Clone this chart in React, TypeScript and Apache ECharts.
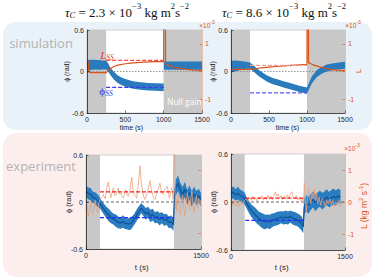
import React, { useEffect, useRef } from 'react';
import * as echarts from 'echarts';

// ---------------- data ----------------
// simulation, tau_C = 2.3e-3
const S1_T = [0, 50, 100, 150, 200, 250, 275, 300, 350, 400, 450, 500, 600, 700, 800, 900, 1000, 1003, 1050, 1100, 1200, 1300, 1400, 1500];
const S1_PHI = [0.09, 0.095, 0.1, 0.095, 0.095, 0.095, 0.06, 0.01, -0.06, -0.11, -0.14, -0.165, -0.195, -0.21, -0.22, -0.225, -0.23, 0.085, 0.085, 0.085, 0.085, 0.085, 0.085, 0.085];
const S1_HW = [0.075, 0.075, 0.07, 0.07, 0.065, 0.065, 0.06, 0.055, 0.055, 0.055, 0.055, 0.055, 0.055, 0.055, 0.055, 0.055, 0.055, 0.06, 0.06, 0.06, 0.06, 0.06, 0.06, 0.06];
const S1_LT = [0, 15, 25, 50, 250, 275, 300, 350, 400, 500, 600, 700, 800, 900, 1000, 1001, 1022, 1025, 1050, 1100, 1200, 1300, 1400, 1500];
const S1_L = [0.38, 0.38, -0.02, -0.04, -0.04, 0.03, 0.1, 0.18, 0.23, 0.28, 0.31, 0.33, 0.345, 0.355, 0.36, 3, 3, 0.28, 0.24, 0.18, 0.12, 0.08, 0.05, 0.04];
const S1_SPAN = [250, 1000];
const S1_L_SS = 0.4;
const S1_PHI_SS = -0.23;
const S1_NULL = [[0, 250], [1000, 1500]];

// simulation, tau_C = 8.6e-3
const S2_T = [0, 50, 100, 150, 200, 250, 300, 350, 400, 470, 550, 600, 690, 800, 900, 1000, 1030, 1065, 1100, 1130, 1200, 1260, 1350, 1420, 1500];
const S2_PHI = [0.07, 0.08, 0.085, 0.09, 0.09, 0.085, 0.04, -0.01, -0.05, -0.1, -0.14, -0.155, -0.185, -0.22, -0.25, -0.275, -0.2, -0.12, -0.07, -0.03, 0.02, 0.05, 0.07, 0.08, 0.09];
const S2_HW = [0.085, 0.08, 0.07, 0.06, 0.05, 0.045, 0.045, 0.045, 0.045, 0.045, 0.045, 0.045, 0.045, 0.045, 0.045, 0.045, 0.05, 0.05, 0.05, 0.05, 0.05, 0.05, 0.05, 0.05, 0.05];
const S2_LT = [0, 250, 300, 400, 500, 600, 700, 800, 900, 1000, 1001, 1018, 1020, 1050, 1100, 1200, 1300, 1400, 1500];
const S2_L = [0.08, 0.08, 0.1, 0.13, 0.16, 0.18, 0.2, 0.22, 0.24, 0.26, 3, 3, 0.33, 0.28, 0.22, 0.14, 0.08, 0.05, 0.03];
const S2_SPAN = [250, 1000];
const S2_L_SS = 0.22;
const S2_PHI_SS = -0.31;
const S2_NULL = [[0, 250], [1000, 1500]];

// experiment, left
const E1_T = [0, 30, 60, 90, 120, 150, 180, 210, 240, 270, 300, 330, 360, 390, 420, 450, 480, 510, 540, 570, 600, 630, 660, 690, 720, 750, 780, 810, 840, 870, 900, 930, 960, 990, 1020, 1050, 1080, 1110, 1140,
  1155, 1170, 1200, 1230, 1260, 1290, 1320, 1350, 1380, 1410, 1440, 1470, 1500];
const E1_PHI = [0.13, 0.11, 0.1, 0.06, 0.05, 0.02, -0.01, -0.06, -0.1, -0.14, -0.17, -0.2, -0.22, -0.24, -0.26, -0.27, -0.25, -0.27, -0.28, -0.28, -0.26, -0.22, -0.17, -0.12, -0.08, -0.11, -0.15, -0.13, -0.18, -0.16, -0.2, -0.19, -0.22, -0.2, -0.23, -0.22, -0.26, -0.25, -0.29,
  0.08, 0.18, 0.24, 0.15, 0.1, 0.16, 0.06, 0.12, 0.04, 0.1, 0.05, 0.08, 0.03];
const E1_HW = [0.07, 0.075, 0.08, 0.07, 0.075, 0.08, 0.07, 0.065, 0.07, 0.075, 0.08, 0.075, 0.07, 0.08, 0.075, 0.07, 0.08, 0.075, 0.07, 0.08, 0.075, 0.07, 0.075, 0.07, 0.065, 0.07, 0.075, 0.07, 0.08, 0.075, 0.07, 0.075, 0.08, 0.07, 0.075, 0.07, 0.075, 0.08, 0.08,
  0.09, 0.1, 0.1, 0.095, 0.09, 0.1, 0.095, 0.09, 0.1, 0.095, 0.09, 0.09, 0.085];
const E1_LT = [0, 15, 30, 45, 60, 75, 90, 105, 120, 135, 150, 165, 183,
  205, 226, 250, 270, 291, 310, 322, 340, 357, 375, 391, 410, 422, 437, 452, 470, 487, 505, 522, 537, 552, 575, 596, 612, 626, 645, 661, 680, 704, 722, 739, 755, 769, 787, 804, 820, 835, 852, 869, 885, 900, 915, 930, 948, 965, 983, 1000, 1015, 1030, 1045, 1061, 1075, 1087, 1100, 1117, 1130, 1139,
  1146, 1156, 1165, 1175, 1185, 1200, 1215, 1230, 1245, 1260, 1275, 1290, 1305, 1320, 1335, 1350, 1365, 1380, 1395, 1410, 1425, 1440, 1455, 1470, 1485, 1500];
const E1_L = [-0.3, -0.1, -0.45, -0.2, -0.05, -0.3, -0.4, -0.1, 0.05, -0.25, -0.35, -0.05, 0.08,
  0.15, 0.24, 0.1, 0.45, 0.64, 0.3, 0.13, 0.3, 0.45, 0.2, 0.24, 0.35, 0.45, 0.25, 0.29, 0.18, 0.13, 0.28, 0.39, 0.22, 0.18, 0.4, 0.79, 0.4, 0.24, 0.2, 0.13, 0.5, 1.16, 0.6, 0.34, 0.15, 0.08, 0.2, 0.34, 0.5, 0.68, 0.4, 0.24, 0.12, 0.08, 0.2, 0.34, 0.45, 0.6, 0.35, 0.24, 0.3, 0.39, 0.45, 0.5, 0.3, 0.13, 0.25, 0.45, 0.2, 0.08,
  2.5, 2.5, -0.2, 0.1, -0.3, 0.25, 0.0, -0.4, -0.1, 0.2, -0.2, -0.45, -0.1, 0.3, 0.1, -0.25, 0.05, 0.35, -0.1, -0.35, 0.0, 0.2, -0.2, 0.1, -0.1, 0.05];
const E1_SPAN = [183, 1140];
const E1_L_SS = 0.32;
const E1_PHI_SS = -0.2;
const E1_NULL = [[0, 183], [1148, 1500]];

// experiment, right
const E2_T = [0, 30, 60, 90, 120, 150, 180, 210, 240, 270, 300, 330, 360, 390, 420, 450, 480, 510, 540, 570, 600, 630, 660, 690, 720, 750, 780, 810, 840, 870, 900, 930,
  950, 965, 990, 1020, 1050, 1080, 1110, 1140, 1170, 1200, 1230, 1260, 1290, 1320, 1350, 1380, 1410, 1440];
const E2_PHI = [0.11, 0.12, 0.09, 0.11, 0.08, 0.07, 0.04, -0.02, -0.07, -0.11, -0.14, -0.17, -0.2, -0.22, -0.24, -0.25, -0.24, -0.25, -0.23, -0.22, -0.21, -0.2, -0.19, -0.2, -0.19, -0.2, -0.18, -0.2, -0.21, -0.22, -0.24, -0.27,
  -0.31, -0.05, -0.02, -0.04, 0.0, 0.03, -0.01, 0.02, 0.04, 0.01, 0.03, 0.06, 0.03, 0.05, 0.07, 0.05, 0.08, 0.06];
const E2_HW = [0.07, 0.075, 0.07, 0.08, 0.075, 0.07, 0.075, 0.07, 0.075, 0.08, 0.085, 0.09, 0.085, 0.09, 0.095, 0.09, 0.085, 0.09, 0.085, 0.08, 0.085, 0.08, 0.075, 0.08, 0.085, 0.08, 0.075, 0.08, 0.085, 0.08, 0.085, 0.09,
  0.08, 0.1, 0.1, 0.105, 0.1, 0.1, 0.105, 0.1, 0.1, 0.105, 0.1, 0.1, 0.095, 0.1, 0.1, 0.095, 0.09, 0.09];
const E2_LT = [0, 15, 30, 45, 60, 75, 90, 105, 120, 135, 150, 165, 180,
  200, 220, 245, 265, 285, 305, 325, 345, 365, 385, 405, 425, 445, 465, 485, 505, 525, 545, 565, 583, 600, 620, 640, 660, 680, 700, 720, 740, 760, 780, 800, 820, 840, 860, 880, 900, 920, 940, 955,
  965, 980, 990, 1005, 1020, 1035, 1050, 1065, 1080, 1095, 1110, 1125, 1140, 1160, 1180, 1200, 1220, 1240, 1260, 1280, 1300, 1320, 1340, 1360, 1380, 1400, 1420, 1440, 1460];
const E2_L = [-0.05, 0.05, -0.1, -0.02, -0.12, 0.0, -0.08, -0.15, -0.02, 0.04, -0.1, -0.05, 0.05,
  0.1, 0.02, 0.15, 0.05, 0.18, 0.08, 0.12, 0.02, 0.14, 0.1, 0.2, 0.06, 0.15, 0.08, 0.22, 0.1, 0.18, 0.06, 0.2, 0.32, 0.18, 0.25, 0.12, 0.2, 0.08, 0.18, 0.1, 0.22, 0.12, 0.25, 0.32, 0.15, 0.1, 0.2, 0.06, 0.15, 0.04, 0.1, -0.05,
  0.6, 0.1, -0.3, 0.1, 0.45, 0.2, -0.05, 0.3, 0.1, 0.4, 0.05, 0.25, -0.05, 0.15, -0.1, 0.1, 0.0, -0.15, 0.05, -0.05, 0.1, -0.1, 0.05, -0.15, 0.0, -0.1, 0.05, -0.15, -0.05];
const E2_SPAN = [188, 955];
const E2_L_SS = 0.12;
const E2_PHI_SS = -0.23;
const E2_NULL = [[0, 180], [960, 1500]];

const X_TICKS_SIM = [0, 500, 1000, 1500];
const X_TICKS_EXP = [0, 1500];
const PHI_RANGE = [-0.6, 0.6];
const L_RANGE = [-1.5, 1.5];

// ---------------- styling ----------------
const SANS = 'Liberation Sans, Arial, Helvetica, sans-serif';
const SERIF = 'Liberation Serif, DejaVu Serif, serif';
const ORANGE = '#d95319';
const GRAY_AREA = '#c8c8c8';

const GRIDS = [
  { left: 87, top: 30, width: 115, height: 83 },
  { left: 231, top: 30, width: 114, height: 83 },
  { left: 86, top: 155, width: 115, height: 94 },
  { left: 231, top: 154, width: 114, height: 96 },
];

const fmt = (v: number) => String(v);

function bandSeries(gi: number, T: number[], C: number[], H: number[], color: string, opacity: number) {
  return {
    type: 'custom',
    xAxisIndex: gi,
    yAxisIndex: gi * 2,
    data: [[T[0], C[0]]],
    silent: true,
    z: 3,
    renderItem: (params: any, api: any) => {
      const pts: number[][] = [];
      for (let i = 0; i < T.length; i++) pts.push(api.coord([T[i], C[i] + H[i]]));
      for (let i = T.length - 1; i >= 0; i--) pts.push(api.coord([T[i], C[i] - H[i]]));
      return { type: 'polygon', shape: { points: pts }, style: { fill: color, opacity } };
    },
  };
}

function lineSeries(gi: number, right: boolean, T: number[], V: number[], color: string, width: number, type: any = 'solid', z = 4, opacity = 1) {
  return {
    type: 'line',
    xAxisIndex: gi,
    yAxisIndex: gi * 2 + (right ? 1 : 0),
    data: T.map((t, i) => [t, V[i]]),
    symbol: 'none',
    silent: true,
    clip: true,
    z,
    lineStyle: { color, width, type, opacity },
  };
}

function nullSeries(gi: number, spans: number[][]) {
  return {
    type: 'line',
    xAxisIndex: gi,
    yAxisIndex: gi * 2,
    data: [[spans[0][0], 0]],
    symbol: 'none',
    silent: true,
    z: 1,
    lineStyle: { width: 0 },
    markArea: {
      silent: true,
      itemStyle: { color: GRAY_AREA, opacity: 1 },
      data: spans.map((s) => [{ xAxis: s[0] }, { xAxis: s[1] }]),
    },
  };
}

function zeroSeries(gi: number, color: string, type: any) {
  return lineSeries(gi, false, [0, 1500], [0, 0], color, 0.9, type, 2);
}

function ssSeries(gi: number, span: number[], lss: number, pss: number, lc: string, pc: string) {
  return [
    lineSeries(gi, true, span, [lss, lss], lc, 1.2, [4, 2], 6),
    lineSeries(gi, false, span, [pss, pss], pc, 1.2, [4, 2], 6),
  ];
}

function xAxis(gi: number, sim: boolean) {
  return {
    type: 'value',
    gridIndex: gi,
    min: 0,
    max: 1500,
    interval: 500,
    z: 10,
    axisLine: { show: true, onZero: false, lineStyle: { color: '#262626', width: 0.8 } },
    axisTick: {
      show: true, inside: true, length: 2.5,
      lineStyle: { color: '#262626', width: 0.6 },
      customValues: sim ? X_TICKS_SIM : X_TICKS_EXP,
    },
    axisLabel: {
      show: true, fontSize: 7, color: '#262626', margin: 3, fontFamily: SANS,
      customValues: sim ? X_TICKS_SIM : X_TICKS_EXP,
      showMinLabel: true, showMaxLabel: true,
      formatter: fmt,
    },
    splitLine: { show: false },
  };
}

function yLeft(gi: number) {
  return {
    type: 'value',
    gridIndex: gi,
    position: 'left',
    min: PHI_RANGE[0],
    max: PHI_RANGE[1],
    interval: 0.6,
    z: 10,
    axisLine: { show: true, onZero: false, lineStyle: { color: '#262626', width: 0.8 } },
    axisTick: { show: true, inside: true, length: 2.5, lineStyle: { color: '#262626', width: 0.6 } },
    axisLabel: { fontSize: 7, color: '#262626', margin: 3, fontFamily: SANS, showMinLabel: true, showMaxLabel: true, formatter: fmt },
    splitLine: { show: false },
  };
}

function yRight(gi: number, labels: number[] | null) {
  return {
    type: 'value',
    gridIndex: gi,
    position: 'right',
    min: L_RANGE[0],
    max: L_RANGE[1],
    interval: 0.5,
    z: 10,
    axisLine: { show: true, onZero: false, lineStyle: { color: '#e9b99c', width: 0.8 } },
    axisTick: { show: true, inside: true, length: 2.5, lineStyle: { color: ORANGE, width: 0.6 }, customValues: [-1, 0, 1] },
    axisLabel: {
      show: !!labels, fontSize: 7, color: ORANGE, margin: 3, fontFamily: SANS,
      customValues: labels || [],
      formatter: fmt,
    },
    splitLine: { show: false },
  };
}

function text(x: number, y: number, t: string, o: any = {}) {
  const { rotation, rich, ...style } = o;
  return {
    type: 'text',
    x, y, z: 100,
    rotation: rotation || 0,
    silent: true,
    style: {
      text: t,
      fontFamily: SANS,
      fontSize: 7,
      fill: '#262626',
      align: 'center',
      verticalAlign: 'middle',
      textAlign: 'center',
      textVerticalAlign: 'middle',
      rich,
      ...style,
    },
  };
}

function title(x: number, val: string) {
  const base = { fontFamily: SERIF, fontSize: 13, lineHeight: 18, verticalAlign: 'bottom', fill: '#111', color: '#111' };
  const sup = { fontFamily: SERIF, fontSize: 8.5, lineHeight: 9, verticalAlign: 'top', fill: '#111', color: '#111' };
  const sub = { fontFamily: SERIF, fontSize: 8.5, fontStyle: 'italic', lineHeight: 10, verticalAlign: 'bottom', fill: '#111', color: '#111' };
  return text(x, 10, `{i|τ}{sub|C}{n| = ${val} × 10}{sup|−3}{n| kg m}{sup|2}{n|s}{sup|−2}`, {
    rich: { n: base, i: { ...base, fontStyle: 'italic' }, sup, sub },
  });
}

function times(x: number, y: number) {
  return text(x, y, '{a|×10}{b|-3}', {
    rich: {
      a: { fontSize: 6.5, fontFamily: SANS, fill: ORANGE, color: ORANGE, lineHeight: 9, verticalAlign: 'bottom' },
      b: { fontSize: 5, fontFamily: SANS, fill: ORANGE, color: ORANGE, lineHeight: 6, verticalAlign: 'top' },
    },
  });
}

export default function App() {
  const ref = useRef<HTMLDivElement>(null);
  useEffect(() => {
    if (!ref.current) return;
    const chart = echarts.init(ref.current, null, { renderer: 'svg' });

    const series: any[] = [
      nullSeries(0, S1_NULL), nullSeries(1, S2_NULL), nullSeries(2, E1_NULL), nullSeries(3, E2_NULL),
      zeroSeries(0, '#8a8a8a', [1.5, 1.5]), zeroSeries(1, '#8a8a8a', [1.5, 1.5]),
      zeroSeries(2, '#555555', [3, 2]), zeroSeries(3, '#555555', [3, 2]),
      bandSeries(0, S1_T, S1_PHI, S1_HW, '#2a7bbd', 1),
      bandSeries(1, S2_T, S2_PHI, S2_HW, '#2a7bbd', 1),
      bandSeries(2, E1_T, E1_PHI, E1_HW, '#2c7cc0', 1),
      bandSeries(3, E2_T, E2_PHI, E2_HW, '#2c7cc0', 1),
      lineSeries(2, false, E1_T, E1_PHI, '#0d559d', 1.3, 'solid', 3),
      lineSeries(3, false, E2_T, E2_PHI, '#0d559d', 1.3, 'solid', 3),
      lineSeries(0, true, S1_LT, S1_L, ORANGE, 1.2, 'solid', 5),
      lineSeries(1, true, S2_LT, S2_L, ORANGE, 1.2, 'solid', 5),
      lineSeries(2, true, E1_LT, E1_L, '#eba07c', 0.8, 'solid', 5),
      lineSeries(3, true, E2_LT, E2_L, '#eba07c', 0.8, 'solid', 5),
      ...ssSeries(0, S1_SPAN, S1_L_SS, S1_PHI_SS, '#ff4545', '#3b3bf0'),
      ...ssSeries(1, S2_SPAN, S2_L_SS, S2_PHI_SS, '#f79a9a', '#5a5af5'),
      ...ssSeries(2, E1_SPAN, E1_L_SS, E1_PHI_SS, '#ff1a1a', '#2a2aff'),
      ...ssSeries(3, E2_SPAN, E2_L_SS, E2_PHI_SS, '#ff1a1a', '#2a2aff'),
    ];

    const graphic: any[] = [
      { type: 'rect', z: -10, silent: true, shape: { x: 3, y: 22, width: 369, height: 108, r: 13 }, style: { fill: '#e9f1f9' } },
      { type: 'rect', z: -10, silent: true, shape: { x: 3, y: 133, width: 369, height: 144, r: 14 }, style: { fill: '#fdeeee' } },
      title(127, '2.3'),
      title(284, '8.6'),
      text(41, 43, 'simulation', { fontFamily: 'Open Sans, sans-serif', fontSize: 13, fill: '#b3b3b3' }),
      text(41, 166, 'experiment', { fontFamily: 'Open Sans, sans-serif', fontSize: 13, fill: '#b3b3b3' }),
      text(167, 101.5, 'Null gain', { fontSize: 8.5, fill: '#ffffff', align: 'left', textAlign: 'left', fontFamily: 'Open Sans, sans-serif' }),
      text(107, 55, '{a|L}{b|SS}', {
        rich: {
          a: { fontFamily: SERIF, fontStyle: 'italic', fontSize: 11, fill: '#e83a3a', color: '#e83a3a', lineHeight: 12, verticalAlign: 'top' },
          b: { fontFamily: SERIF, fontStyle: 'italic', fontSize: 7.5, fill: '#e83a3a', color: '#e83a3a', lineHeight: 8, verticalAlign: 'bottom' },
        },
      }),
      text(106, 91.5, '{a|ϕ}{b|SS}', {
        rich: {
          a: { fontFamily: SERIF, fontSize: 11, fill: '#3535e8', color: '#3535e8', lineHeight: 12, verticalAlign: 'top' },
          b: { fontFamily: SERIF, fontStyle: 'italic', fontSize: 7.5, fill: '#3535e8', color: '#3535e8', lineHeight: 8, verticalAlign: 'bottom' },
        },
      }),
      text(66, 71.5, 'ϕ (rad)', { rotation: Math.PI / 2 }),
      text(212, 71.5, 'ϕ (rad)', { rotation: Math.PI / 2 }),
      text(68, 202, 'ϕ (rad)', { rotation: Math.PI / 2, fontSize: 7.5 }),
      text(213, 202, 'ϕ (rad)', { rotation: Math.PI / 2, fontSize: 7.5 }),
      text(131.5, 127.5, 'time (s)'),
      text(287.5, 127.5, 'time (s)'),
      text(141.7, 267.5, 't (s)', { fontSize: 8 }),
      text(281.7, 267.5, 't (s)', { fontSize: 8 }),
      text(358, 71, 'L', { rotation: Math.PI / 2, fill: ORANGE, fontSize: 8 }),
      text(363, 206, '{a|L (kg m}{b|2}{a| s}{b|-1}{a|)}', {
        rotation: Math.PI / 2,
        rich: {
          a: { fontSize: 8.5, fontFamily: SANS, fill: ORANGE, color: ORANGE, lineHeight: 11, verticalAlign: 'bottom' },
          b: { fontSize: 6, fontFamily: SANS, fill: ORANGE, color: ORANGE, lineHeight: 7, verticalAlign: 'top' },
        },
      }),
      times(207, 24),
      times(353, 24),
      times(352, 147),
    ];

    chart.setOption({
      animation: false,
      backgroundColor: '#ffffff',
      grid: GRIDS.map((g) => ({ ...g, show: true, backgroundColor: '#ffffff', borderColor: '#c4c4c4', borderWidth: 0.8, containLabel: false })),
      xAxis: [xAxis(0, true), xAxis(1, true), xAxis(2, false), xAxis(3, false)],
      yAxis: [
        yLeft(0), yRight(0, [-1, 1]),
        yLeft(1), yRight(1, [-1, 1]),
        yLeft(2), yRight(2, null),
        yLeft(3), yRight(3, [-1, 0, 1]),
      ],
      series,
      graphic,
    });
    return () => chart.dispose();
  }, []);
  return <div ref={ref} style={{ position: 'fixed', left: 0, top: 0, width: 374, height: 280 }} />;
}
